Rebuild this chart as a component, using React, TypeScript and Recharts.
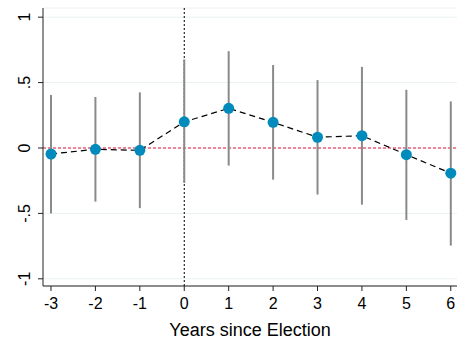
import {
  CartesianGrid,
  ComposedChart,
  ErrorBar,
  Line,
  ReferenceLine,
  Scatter,
  XAxis,
  YAxis,
} from 'recharts';

// event-study estimates with 95% CIs, by years since election

const years = [-3, -2, -1, 0, 1, 2, 3, 4, 5, 6];
const estimates = [-0.046, -0.01, -0.018, 0.2, 0.303, 0.196, 0.082, 0.094, -0.051, -0.193];
const ciLow = [-0.5, -0.41, -0.46, -0.267, -0.135, -0.242, -0.356, -0.433, -0.55, -0.746];
const ciHigh = [0.405, 0.39, 0.425, 0.677, 0.74, 0.634, 0.519, 0.62, 0.445, 0.356];

const yTicks = [-1, -0.5, 0, 0.5, 1];
const yTickLabels = ['-1', '-.5', '0', '.5', '1'];

const data = years.map((year, i) => ({
  year,
  est: estimates[i],
  // ErrorBar takes [below, above] offsets from the point
  err: [estimates[i] - ciLow[i], ciHigh[i] - estimates[i]],
}));

const font = 'Liberation Sans, Arial, Helvetica, sans-serif';

function YTick({ y, payload }: any) {
  const idx = yTicks.indexOf(payload.value);
  const tx = 30;
  return (
    <text
      x={tx}
      y={y}
      transform={`rotate(-90, ${tx}, ${y})`}
      textAnchor="middle"
      style={{ fontSize: 16, fontFamily: font }}
      fill="#000"
    >
      {idx >= 0 ? yTickLabels[idx] : payload.value}
    </text>
  );
}

function XTick({ x, y, payload }: any) {
  return (
    <text x={x} y={y + 18} textAnchor="middle" style={{ fontSize: 16, fontFamily: font }} fill="#000">
      {payload.value}
    </text>
  );
}

export default function App() {
  return (
    <div style={{ position: 'absolute', left: 0, top: 0, background: '#fff' }}>
      <ComposedChart
        width={457}
        height={341}
        data={data}
        margin={{ top: 8, right: 0, bottom: 0, left: 0 }}
        style={{ fontFamily: font }}
      >
        <CartesianGrid horizontal vertical={false} stroke="#eaf2f3" strokeWidth={1} />
        <XAxis
          dataKey="year"
          type="number"
          domain={[-3.18, 6.14]}
          ticks={years}
          allowDataOverflow
          height={55}
          tickSize={5}
          tickMargin={0}
          tick={<XTick />}
          stroke="#222"
          tickLine={{ stroke: '#222' }}
          label={{
            value: 'Years since Election',
            position: 'insideBottom',
            offset: 5,
            fontSize: 18,
            fill: '#000',
          }}
        />
        <YAxis
          type="number"
          domain={[-1.055, 1.07]}
          ticks={yTicks}
          allowDataOverflow
          width={43}
          tickSize={5}
          tick={<YTick />}
          stroke="#222"
          tickLine={{ stroke: '#222' }}
        />
        <ReferenceLine y={0} stroke="#e3143c" strokeDasharray="3 2" strokeWidth={1.2} />
        <ReferenceLine x={0} stroke="#000" strokeDasharray="2 2" strokeWidth={1} />
        <Scatter dataKey="est" shape={() => <g />} isAnimationActive={false}>
          <ErrorBar dataKey="err" direction="y" width={0} stroke="#8a8a8a" strokeWidth={2} />
        </Scatter>
        <Line
          dataKey="est"
          type="linear"
          stroke="#000"
          strokeWidth={1.2}
          strokeDasharray="6 4"
          dot={{ r: 5.5, fill: '#008bbc', stroke: 'none' }}
          activeDot={false}
          isAnimationActive={false}
        />
      </ComposedChart>
    </div>
  );
}
